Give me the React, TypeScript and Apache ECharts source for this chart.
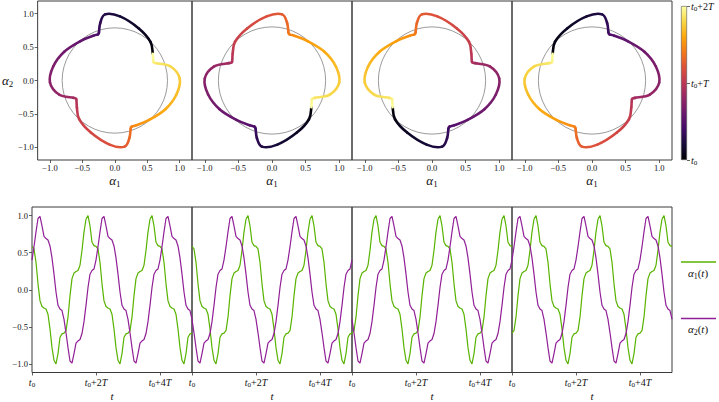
import React, { useEffect, useRef } from 'react';
import * as echarts from 'echarts';

const samplesPerT = 16;
const periodsShownBottom = 5; // time axis spans t0 .. t0+5T
const alpha1 = [
  0.585, 0.55, 0.37, 0.08, -0.15, -0.225, -0.245, -0.26, -0.33, -0.53, -0.78, -0.95, -1.0, -0.86, -0.64, -0.595,
  -0.585, -0.55, -0.37, -0.08, 0.15, 0.225, 0.245, 0.26, 0.33, 0.53, 0.78, 0.95, 1.0, 0.86, 0.64, 0.595,
];
const alpha2 = [
  0.40, 0.58, 0.78, 0.96, 0.99, 0.86, 0.72, 0.69, 0.67, 0.59, 0.43, 0.21, -0.03, -0.21, -0.26, -0.28,
  -0.40, -0.58, -0.78, -0.96, -0.99, -0.86, -0.72, -0.69, -0.67, -0.59, -0.43, -0.21, 0.03, 0.21, 0.26, 0.28,
];
// sign of (alpha1, alpha2) shown in each of the four panels
const panelSigns = [
  [1, 1],
  [1, -1],
  [-1, -1],
  [-1, 1],
];
const referenceRadius = 0.8;
const phaseTicks = [-1, -0.5, 0, 0.5, 1];
const timeTicks = [0, 2, 4];
const colorbarTicks = [0, 1, 2];

// ---- styling ----
const FONT = 'Liberation Serif, DejaVu Serif, serif';
const TEXT = '#111111';
const GREEN = '#58b300';
const PURPLE = '#911f97';
const FRAME = '#3a3a3a';
const INFERNO = ['#000004', '#160b39', '#420a68', '#6a176e', '#932667', '#bc3754', '#dd513a', '#f37819', '#fca50a', '#f6d746', '#fcffa4'];

function hex(h: string) {
  return [parseInt(h.slice(1, 3), 16), parseInt(h.slice(3, 5), 16), parseInt(h.slice(5, 7), 16)];
}
function inferno(f: number) {
  const x = Math.max(0, Math.min(1, f)) * (INFERNO.length - 1);
  const i = Math.min(INFERNO.length - 2, Math.floor(x));
  const r = x - i;
  const a = hex(INFERNO[i]);
  const b = hex(INFERNO[i + 1]);
  const c = a.map((v, j) => Math.round(v + (b[j] - v) * r));
  return `rgb(${c[0]},${c[1]},${c[2]})`;
}

const richBase = (size: number) => ({
  i: { fontFamily: FONT, fontStyle: 'italic', fontSize: size, color: TEXT, lineHeight: size + 3 },
  a: { fontFamily: FONT, fontStyle: 'italic', fontSize: size, color: TEXT, lineHeight: size + 3 },
  r: { fontFamily: FONT, fontSize: size, color: TEXT, lineHeight: size + 3 },
  s: { fontFamily: FONT, fontSize: Math.round(size * 0.7), color: TEXT, verticalAlign: 'bottom', lineHeight: Math.round(size * 0.7) },
});

const numFmt = (v: number) => (v < 0 ? '\u2212' : '') + Math.abs(v).toFixed(1);
const timeFmt = (v: number) => (v === 0 ? '{i|t}{s|0}' : `{i|t}{s|0}{r|+${v === 1 ? '' : v}}{i|T}`);

const PANEL_LEFT = 32;
const PANEL_W = 160;
const TICK_FONT = 8.5;
const tickStyle = { color: FRAME, width: 0.8 };

function buildOption() {
  const grid: any[] = [];
  const xAxis: any[] = [];
  const yAxis: any[] = [];
  const series: any[] = [];
  const n = alpha1.length;

  // top row: phase portraits
  for (let p = 0; p < 4; p++) {
    grid.push({ left: PANEL_LEFT + PANEL_W * p, top: 1, width: PANEL_W, height: 159, show: true, borderColor: FRAME, borderWidth: 1, backgroundColor: 'transparent' });
    xAxis.push({
      type: 'value', gridIndex: p, min: -1.19, max: 1.19, position: 'bottom',
      axisLine: { show: false, onZero: false }, splitLine: { show: false },
      axisTick: { show: true, customValues: phaseTicks, length: 3, lineStyle: tickStyle },
      axisLabel: { customValues: phaseTicks, formatter: numFmt, margin: 3, fontFamily: FONT, fontSize: TICK_FONT, color: TEXT },
      name: '{a|α}{s|1}', nameLocation: 'middle', nameGap: 12,
      nameTextStyle: { rich: richBase(13), color: TEXT },
    });
    yAxis.push({
      type: 'value', gridIndex: p, min: -1.19, max: 1.19, position: 'left',
      axisLine: { show: false, onZero: false }, splitLine: { show: false },
      axisTick: { show: p === 0, customValues: phaseTicks, length: 3, lineStyle: tickStyle },
      axisLabel: { show: p === 0, customValues: phaseTicks, formatter: numFmt, margin: 4, fontFamily: FONT, fontSize: TICK_FONT, color: TEXT },
      name: p === 0 ? '{a|α}{s|2}' : '', nameLocation: 'middle', nameRotate: 0, nameGap: 20,
      nameTextStyle: { rich: richBase(13), color: TEXT },
    });
    series.push({
      type: 'custom', xAxisIndex: p, yAxisIndex: p, data: [[0, 0, referenceRadius]], z: 2, silent: true,
      renderItem: (_params: any, api: any) => {
        const c = api.coord([api.value(0), api.value(1)]);
        const s = api.size([api.value(2), api.value(2)]);
        return { type: 'circle', shape: { cx: c[0], cy: c[1], r: (s[0] + s[1]) / 2 }, style: { fill: 'none', stroke: '#808080', lineWidth: 0.8 } };
      },
    });
    const [s1, s2] = panelSigns[p];
    const pts = alpha1.map((a, k) => [s1 * a, s2 * alpha2[k], k]);
    series.push({
      type: 'custom', xAxisIndex: p, yAxisIndex: p, data: pts, z: 3, silent: true, clip: false,
      renderItem: (params: any, api: any) => {
        const i = params.dataIndex;
        const at = (j: number) => {
          const q = pts[((j % n) + n) % n];
          return api.coord([q[0], q[1]]);
        };
        const p0 = at(i - 1), p1 = at(i), p2 = at(i + 1), p3 = at(i + 2);
        const k = 1 / 6;
        const grad = new echarts.graphic.LinearGradient(p1[0], p1[1], p2[0] + 0.01, p2[1] + 0.01, [
          { offset: 0, color: inferno(i / n) },
          { offset: 1, color: inferno((i + 1) / n) },
        ], true);
        return {
          type: 'bezierCurve',
          shape: {
            x1: p1[0], y1: p1[1], x2: p2[0], y2: p2[1],
            cpx1: p1[0] + (p2[0] - p0[0]) * k, cpy1: p1[1] + (p2[1] - p0[1]) * k,
            cpx2: p2[0] - (p3[0] - p1[0]) * k, cpy2: p2[1] - (p3[1] - p1[1]) * k,
          },
          style: { fill: 'none', stroke: grad, lineWidth: 2.6, lineCap: 'round' },
        };
      },
    });
  }

  // bottom row: time series
  const total = samplesPerT * periodsShownBottom;
  for (let p = 0; p < 4; p++) {
    const gi = 4 + p;
    grid.push({ left: PANEL_LEFT + PANEL_W * p, top: 207, width: PANEL_W, height: 169, show: true, borderColor: FRAME, borderWidth: 1, backgroundColor: 'transparent' });
    xAxis.push({
      type: 'value', gridIndex: gi, min: 0, max: periodsShownBottom, position: 'bottom',
      axisLine: { show: false, onZero: false }, splitLine: { show: false },
      axisTick: { show: true, customValues: timeTicks, length: 3, lineStyle: tickStyle },
      axisLabel: { customValues: timeTicks, formatter: timeFmt, margin: 3, color: TEXT, rich: richBase(10) },
      name: '{i|t}', nameLocation: 'middle', nameGap: 16, nameTextStyle: { rich: richBase(11), color: TEXT },
    });
    yAxis.push({
      type: 'value', gridIndex: gi, min: -1.115, max: 1.115, position: 'left',
      axisLine: { show: false, onZero: false }, splitLine: { show: false },
      axisTick: { show: p === 0, customValues: phaseTicks, length: 3, lineStyle: tickStyle },
      axisLabel: { show: p === 0, customValues: phaseTicks, formatter: numFmt, margin: 4, fontFamily: FONT, fontSize: TICK_FONT, color: TEXT },
    });
    const [s1, s2] = panelSigns[p];
    const d1: number[][] = [];
    const d2: number[][] = [];
    for (let k = 0; k <= total; k++) {
      d1.push([k / samplesPerT, s1 * alpha1[k % n]]);
      d2.push([k / samplesPerT, s2 * alpha2[k % n]]);
    }
    series.push({ type: 'line', name: 'α1(t)', xAxisIndex: gi, yAxisIndex: gi, data: d1, showSymbol: false, symbol: 'none', lineStyle: { color: GREEN, width: 1.2 }, z: 3, silent: true });
    series.push({ type: 'line', name: 'α2(t)', xAxisIndex: gi, yAxisIndex: gi, data: d2, showSymbol: false, symbol: 'none', lineStyle: { color: PURPLE, width: 1.2 }, z: 3, silent: true });
  }

  // colorbar
  grid.push({ left: 681, top: 6, width: 6, height: 154, show: false });
  xAxis.push({ type: 'category', gridIndex: 8, data: [''], show: false });
  yAxis.push({
    type: 'value', gridIndex: 8, position: 'right', min: 0, max: 2,
    axisLine: { show: false, onZero: false }, splitLine: { show: false },
    axisTick: { show: true, customValues: colorbarTicks, length: 3, lineStyle: tickStyle },
    axisLabel: { customValues: colorbarTicks, formatter: timeFmt, margin: 4, color: TEXT, rich: richBase(10) },
  });
  series.push({
    type: 'bar', xAxisIndex: 8, yAxisIndex: 8, data: [colorbarTicks[colorbarTicks.length - 1]], barWidth: '100%', silent: true,
    itemStyle: {
      color: new echarts.graphic.LinearGradient(0, 1, 0, 0, INFERNO.map((c, i) => ({ offset: i / (INFERNO.length - 1), color: c }))),
      borderColor: '#555', borderWidth: 0.6,
    },
  });

  const legendRich = richBase(11);
  return {
    animation: false,
    backgroundColor: '#ffffff',
    textStyle: { fontFamily: FONT, color: TEXT },
    grid, xAxis, yAxis, series,
    graphic: [
      { type: 'line', shape: { x1: 681, y1: 262, x2: 716, y2: 262 }, style: { stroke: GREEN, lineWidth: 1.3 } },
      { type: 'text', x: 698, y: 273, style: { text: '{a|α}{s|1}{r|(}{i|t}{r|)}', rich: legendRich, fill: TEXT, align: 'center', verticalAlign: 'middle' } },
      { type: 'line', shape: { x1: 681, y1: 318.5, x2: 716, y2: 318.5 }, style: { stroke: PURPLE, lineWidth: 1.3 } },
      { type: 'text', x: 698, y: 329, style: { text: '{a|α}{s|2}{r|(}{i|t}{r|)}', rich: legendRich, fill: TEXT, align: 'center', verticalAlign: 'middle' } },
    ],
  };
}

export default function App() {
  const ref = useRef<HTMLDivElement>(null);
  useEffect(() => {
    if (!ref.current) return;
    const chart = echarts.init(ref.current, null, { renderer: 'svg' });
    chart.setOption(buildOption() as any);
    return () => chart.dispose();
  }, []);
  return <div ref={ref} style={{ position: 'absolute', left: 0, top: 0, width: 719, height: 402 }} />;
}
